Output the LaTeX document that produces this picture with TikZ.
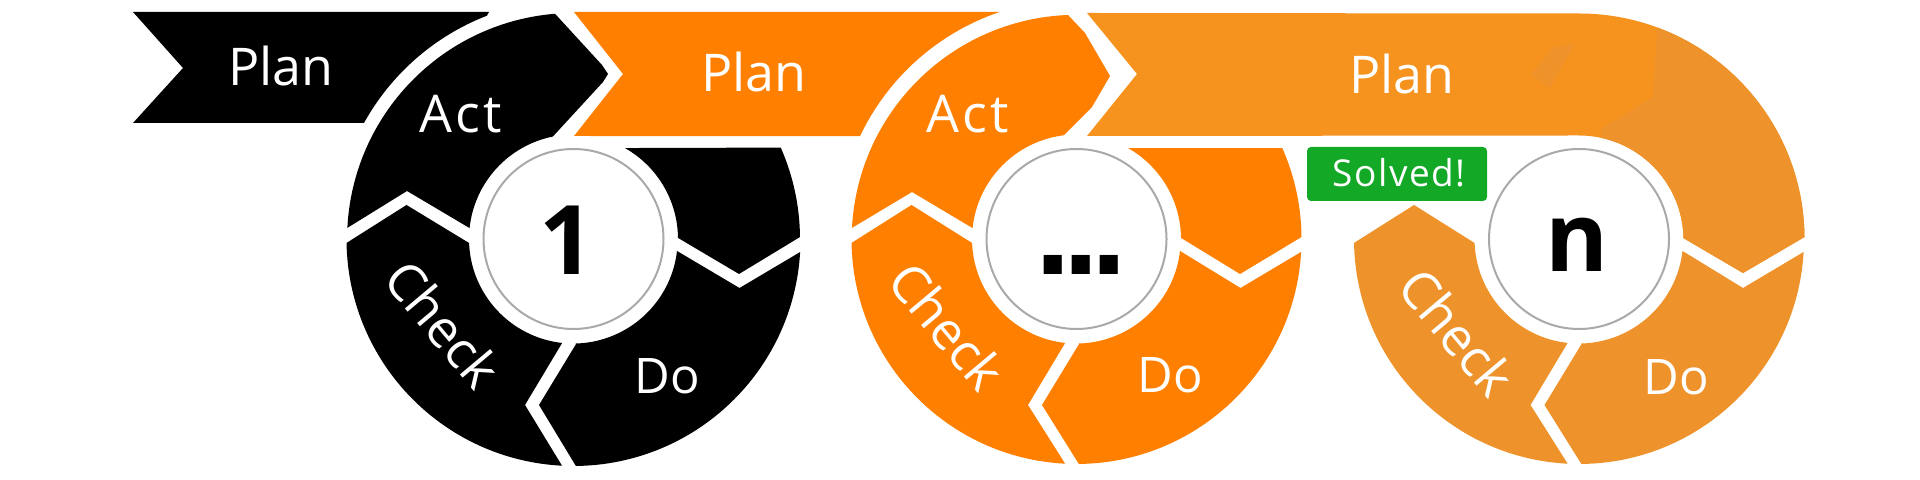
\documentclass[tikz,border=0pt]{standalone}
\usepackage{fontspec}
\setmainfont{Open Sans}
\newfontfamily\dotfont{Liberation Sans}[LetterSpace=-5.9]
\newfontfamily\solvedfont{Open Sans}[LetterSpace=4]
\newfontfamily\actfont{Open Sans}[LetterSpace=6]
\definecolor{cOrange}{HTML}{FF7F00}
\definecolor{cPlanN}{HTML}{F6931F}
\definecolor{cRingN}{HTML}{EE922B}
\definecolor{cSmudge}{HTML}{F0922A}
\definecolor{cGreen}{HTML}{13A826}
\definecolor{cRim}{HTML}{A9A9A9}
\tikzset{
  lbl/.style={text=white,anchor=base,inner sep=0pt,font=\fontsize{26}{30}\selectfont},
  actlbl/.style={lbl,font=\actfont\fontsize{26}{30}\selectfont},
  dolbl/.style={lbl,font=\fontsize{24.5}{30}\selectfont},
  hub/.style={circle,draw=cRim,line width=1pt,fill=white,minimum size=90pt,inner sep=0pt},
  hubtext/.style={text=black,anchor=base,inner sep=0pt,font=\bfseries\fontsize{48}{56}\selectfont},
}
% ring segments, drawn relative to the hub centre; #1 colour, #2 outer radius
\newcommand\CheckSeg[2]{\fill[#1] (181:#2) -- ({-#2+60},34) -- (182.2:104.5) arc[start angle=182.2,end angle=263.7,radius=104.6] -- (-48.5,-166) -- (267.1:#2) arc[start angle=267.1,end angle=181,radius=#2] -- cycle;}
\newcommand\DoSeg[2]{\fill[#1] (271.4:105) -- (-34.5,-166) -- (270.6:#2) arc[start angle=270.6,end angle=356.7,radius=#2] -- ({#2-61},-49) -- (353.4:104.2) arc[start angle=353.4,end angle=271.4,radius=104.6] -- cycle;}
\newcommand\TailSeg[3]{\fill[#1] (0.6:104.5) -- (#3,-35) -- (0.5:#2) arc[start angle=0.5,end angle=23.8,radius=#2] -- (60.5:104.5) arc[start angle=60.5,end angle=0.6,radius=104.5] -- cycle;}
\begin{document}
\begin{tikzpicture}[x=.5pt,y=.5pt]
\useasboundingbox (0,0) rectangle (1920,480);
% first cycle
\begin{scope}[shift={(573.5,241)}]
  \fill[black] (-440.5,227) -- (-390.5,171) -- (-440.5,116) -- (151:239.5) arc[start angle=151,end angle=111.2,radius=239.5] -- (-84.5,227) -- cycle;
  \fill[black] (177.2:226.5) -- (-166.5,48) -- (174:104.5) arc[start angle=174,end angle=101.4,radius=104.5] -- (29.5,157) -- (34.5,165) -- (28.5,174) -- (94.7:226) arc[start angle=94.7,end angle=177.2,radius=226.5] -- cycle;
  \CheckSeg{black}{227}
  \DoSeg{black}{227}
  \TailSeg{black}{226.5}{165.5}
\end{scope}
% second cycle
\begin{scope}[shift={(1076.5,241)}]
  \fill[cOrange] (-502.5,227) -- (-453.5,165) -- (-502.5,103) -- (154.6:239.7) arc[start angle=154.6,end angle=108.6,radius=239.7] -- cycle;
  \fill[cOrange] (177.2:225) -- (-164.5,47) -- (174:104.5) arc[start angle=174,end angle=97,radius=104.5] -- (15.5,132) -- (33.5,163) -- (8.5,206) -- (-8.5,224) arc[start angle=92.2,end angle=177.2,radius=225] -- cycle;
  \CheckSeg{cOrange}{225}
  \DoSeg{cOrange}{225}
  \TailSeg{cOrange}{225}{163.5}
\end{scope}
% last cycle
\begin{scope}[shift={(1579,241)}]
  \fill[cPlanN] (-492,226) -- (-442,165) -- (-492,103) -- (0,103.5) arc[start angle=90,end angle=1,radius=104.5] -- (164,-34) -- (0.5:225.5) arc[start angle=0.5,end angle=90,radius=225.5] -- cycle;
  \begin{scope}
    \clip (-492,226) -- (-442,165) -- (-492,103) -- (0,103.5) arc[start angle=90,end angle=1,radius=104.5] -- (164,-34) -- (0.5:225.5) arc[start angle=0.5,end angle=90,radius=225.5] -- cycle;
    \fill[cRingN] (78,260) -- (78,209) -- (74,142) -- (22,110) -- (22,-60) -- (300,-60) -- (300,260) -- cycle;
  \end{scope}
  \fill[cSmudge] (-26,192) -- (-4,196) -- (-12,181) -- (-29,151) -- (-48,164) -- cycle;
  \CheckSeg{cRingN}{225}
  \DoSeg{cRingN}{225}
\end{scope}
% hubs
\node[hub] (hubA) at (573.5,241) {};
\node[hub] (hubB) at (1076.5,241) {};
\node[hub] (hubC) at (1579,241) {};
\node[hubtext] (numA) at (567,205) {1};
\node[hubtext,font=\dotfont\bfseries\fontsize{64}{70}\selectfont] (numB) at (1081,205) {...};
\node[hubtext] (numC) at (1577,208) {n};
% labels
\node[lbl] (planA) at (281,394) {Plan};
\node[actlbl] (actA) at (461,347) {Act};
\node[lbl,rotate=-50,anchor=center] (checkA) at (443,156) {Check};
\node[dolbl] (doA) at (667,86) {Do};
\node[lbl] (planB) at (754,388) {Plan};
\node[actlbl] (actB) at (968,347) {Act};
\node[lbl,rotate=-50,anchor=center] (checkB) at (947,154) {Check};
\node[dolbl] (doB) at (1170,87) {Do};
\node[lbl] (planC) at (1402,386) {Plan};
\node[lbl,rotate=-50,anchor=center] (checkC) at (1457,148) {Check};
\node[dolbl] (doC) at (1676,85) {Do};
% badge
\fill[cGreen,rounded corners=2pt] (1307,279) rectangle (1487,333);
\node[text=white,anchor=base,inner sep=0pt,font=\solvedfont\fontsize{18.5}{22}\selectfont] (solved) at (1399,293) {Solved!};
\end{tikzpicture}
\end{document}
